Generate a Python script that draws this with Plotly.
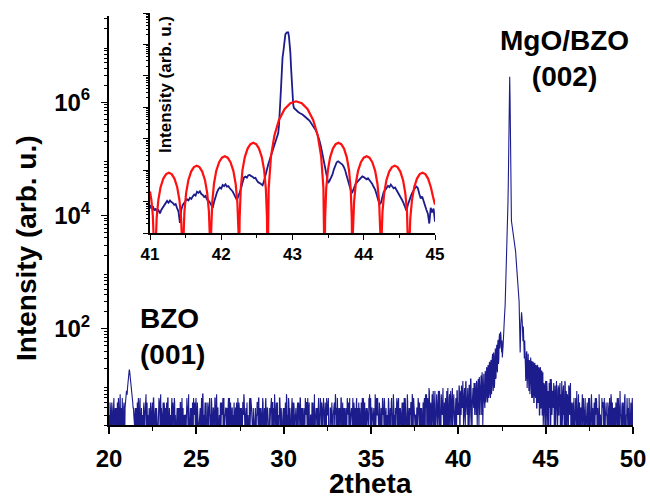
import numpy as np
import plotly.graph_objects as go

# ---------------------------------------------------------------------------
# Wide 2theta scan: detector counts.
# Each segment is (start angle, counts coded one base-36 character per step);
# the "_mid" strings hold the readings taken half a step later.
# ---------------------------------------------------------------------------
SCAN_STEP = 0.04
HALF_STEP = 0.02

counts_low_start = 20.00
counts_low = "3142513624" "1352417326" "142"
counts_low_mid = "2513416231" "4216352413" "251"

bzo_001_start = 20.92
bzo_001 = "4587bfjgc975423"
bzo_001_mid = "5679dhiea864324"

background_start = 21.52
background = (
    "2413625142" "3152473214" "1342516231" "4213527413" "2514326142"
    "3162415324" "1423516243" "2315427131" "4126352413" "3241537214"
    "2513426315" "1432617243" "3215462134" "2416325141" "3524136251"
    "4132573142" "2315264213" "1423536142" "3261425314" "2143625137"
    "4215326413" "1324517236" "2413652413" "3152426314" "1426353241"
    "2314527132" "4162351426" "3241536214" "2513427316" "1432615243"
    "3126452134" "2614325142" "3425136251" "4132672143" "2417263215"
    "1423546132" "3261425317" "2143625134" "4315226417" "1324517263"
    "2314652143" "31"
)
background_mid = (
    "3152416243" "1423615324" "2514263142" "3126452315" "1432516243"
    "2415362134" "3241526413" "1326451243" "2513426154" "1342617325"
    "3215243162" "2416325413" "1523416234" "3142653241" "2314526143"
    "1425362315" "3216452143" "2413526314" "1352416243" "3124625413"
    "2541326142" "1432516325" "3216245134" "2415362413" "1324526153"
    "3152416342" "2413625134" "1526341243" "3214526413" "2143625314"
    "1425316243" "3251426135" "2314625413" "1432526142" "3125436214"
    "2416325143" "1352416325" "3214526413" "2513624135" "1423516243"
    "3142625314" "25"
)

pre_rise_start = 38.00
pre_rise = "3527416293" "4163825147" "2538416392" "5147293618" "3627415283"
pre_rise_mid = "2614735281" "5372418264" "3815274931" "4628315724" "2947136285"

rise_1_start = 40.00
rise_1 = "4a2736b5392c4618a3d25947b"
rise_1_mid = "3928a4c273" "b5394a2d61" "85b39"

rise_2_start = 41.00
rise_2 = "5c2a7e3b8h2d6"
rise_2_mid = "3b6d2a9f3c5g4"

rise_3_start = 41.52
rise_3 = "4g6k5m7p6s9"
rise_3_mid = "i5l7n6q8r7u"

tail_1_start = 44.22
tail_1 = "r7o5p6m4n5k3l4i3"
tail_1_mid = "6q5o7n4m5l3j4i3h"

tail_2_start = 44.86
tail_2 = "2b4a1c3825" "d2947b1a6c" "2839b4172a" "5c2846193b" "2"
tail_2_mid = "3a2c5927b4" "1d3846a2b5" "1a3927c483" "2b5173a4925"

tail_3_start = 46.50
tail_3 = ("3416252813" "2514372416" "1352614273" "4251362417"
          "2316524135" "3142617253" "2415362418" "3251427136" "24615342")
tail_3_mid = ("2531462417" "3142516324" "2415263142" "1326452315"
              "3214526143" "2513426314" "1432516243" "2415362134" "31425162")

# MgO / BZO (002) reflection with its thickness fringes
peak_tth = [
    41.96, 41.98, 42.00, 42.02, 42.04, 42.06, 42.08, 42.10, 42.12, 42.14,
    42.16, 42.18, 42.20, 42.22, 42.24, 42.26, 42.28, 42.30, 42.32, 42.34,
    42.36, 42.38, 42.40, 42.42, 42.44, 42.46, 42.48, 42.50, 42.52, 42.54,
    42.56, 42.58, 42.60, 42.64, 42.68, 42.72, 42.76, 42.80, 42.84, 42.86,
    42.88, 42.90, 42.92, 42.94, 42.96, 42.98, 43.00, 43.02, 43.04, 43.08,
    43.12, 43.16, 43.20, 43.24, 43.28, 43.32, 43.36, 43.40, 43.44, 43.48,
    43.50, 43.52, 43.54, 43.56, 43.58, 43.60, 43.62, 43.64, 43.66, 43.68,
    43.70, 43.72, 43.74, 43.76, 43.78, 43.80, 43.82, 43.84, 43.86, 43.88,
    43.90, 43.92, 43.94, 43.96, 43.98, 44.00, 44.02, 44.04, 44.06, 44.08,
    44.10, 44.12, 44.14, 44.16, 44.18, 44.20,
]
peak_counts = [
    36, 12, 8, 38, 30, 9, 11, 34, 45, 13,
    14, 40, 52, 21, 17, 58, 64, 24, 30, 70,
    82, 45, 55, 88, 76, 50, 38, 62, 31, 40,
    48, 75, 105, 160, 260, 600, 1500, 4000, 16000, 35000,
    120000, 600000, 1900000, 2800000, 1300000, 150000, 60000, 16000, 8000, 6500,
    5300, 4400, 3800, 3200, 2300, 1500, 1000, 700, 480, 300,
    150, 60, 38, 70, 120, 160, 195, 165, 130, 90,
    60, 110, 85, 45, 30, 62, 48, 22, 12, 15,
    38, 40, 9, 13, 33, 36, 14, 8, 28, 26,
    7, 12, 31, 25, 10, 6,
]

# ---------------------------------------------------------------------------
# Inset: high-resolution scan around (002) and simulated Laue fringes
# ---------------------------------------------------------------------------
inset_tth = [
    41.00, 41.02, 41.04, 41.06, 41.08, 41.10, 41.12, 41.14, 41.16, 41.18,
    41.20, 41.22, 41.24, 41.26, 41.28, 41.30, 41.32, 41.34, 41.36, 41.38,
    41.40, 41.42, 41.44, 41.46, 41.48, 41.50, 41.52, 41.54, 41.56, 41.58,
    41.60, 41.62, 41.64, 41.66, 41.68, 41.70, 41.72, 41.74, 41.76, 41.78,
    41.80, 41.82, 41.84, 41.86, 41.88, 41.90, 41.92, 41.94, 41.96, 41.98,
    42.00, 42.02, 42.04, 42.06, 42.08, 42.10, 42.12, 42.14, 42.16, 42.18,
    42.20, 42.22, 42.24, 42.26, 42.28, 42.30, 42.32, 42.34, 42.36, 42.38,
    42.40, 42.42, 42.44, 42.46, 42.48, 42.50, 42.52, 42.54, 42.56, 42.58,
    42.60, 42.62, 42.64, 42.66, 42.68, 42.70, 42.72, 42.74, 42.76, 42.78,
    42.80, 42.81, 42.82, 42.83, 42.84, 42.85, 42.86, 42.87, 42.88, 42.89,
    42.90, 42.92, 42.94, 42.95, 42.96, 42.97, 42.98, 42.99, 43.00, 43.01,
    43.02, 43.04, 43.06, 43.08, 43.10, 43.12, 43.14, 43.16, 43.18, 43.20,
    43.22, 43.24, 43.26, 43.28, 43.30, 43.32, 43.34, 43.36, 43.38, 43.40,
    43.42, 43.44, 43.46, 43.48, 43.50, 43.52, 43.54, 43.56, 43.58, 43.60,
    43.62, 43.64, 43.66, 43.68, 43.70, 43.72, 43.74, 43.76, 43.78, 43.80,
    43.82, 43.84, 43.86, 43.88, 43.90, 43.92, 43.94, 43.96, 43.98, 44.00,
    44.02, 44.04, 44.06, 44.08, 44.10, 44.12, 44.14, 44.16, 44.18, 44.20,
    44.22, 44.24, 44.26, 44.28, 44.30, 44.32, 44.34, 44.36, 44.38, 44.40,
    44.42, 44.44, 44.46, 44.48, 44.50, 44.52, 44.54, 44.56, 44.58, 44.60,
    44.62, 44.64, 44.66, 44.68, 44.70, 44.72, 44.74, 44.76, 44.78, 44.80,
    44.82, 44.84, 44.86, 44.88, 44.90, 44.92, 44.94, 44.96, 44.98, 45.00,
]
inset_measured = [
    7.8, 5.9, 7.1, 5.2, 6.0, 4.6, 5.3, 4.2, 5.5, 6.4,
    7.6, 8.9, 10.5, 9.2, 10.8, 9.6, 9.0, 7.9, 8.3, 6.2,
    4.8, 2.1, 5.6, 7.8, 9.5, 10.6, 11.8, 10.9, 13.2, 12.1,
    14.6, 16.8, 15.5, 20.5, 18.9, 21.2, 17.4, 16.2, 14.0, 15.1,
    11.6, 10.8, 9.4, 7.9, 6.3, 9.8, 15.4, 19.6, 24.5, 28.1,
    26.0, 33.9, 31.0, 35.5, 29.8, 30.9, 26.4, 24.0, 20.9, 17.0,
    13.1, 11.2, 14.8, 19.5, 27.0, 41.5, 58.9, 62.0, 57.5, 69.2,
    70.8, 64.6, 61.7, 55.0, 57.0, 46.8, 40.7, 38.9, 35.5, 33.1,
    44.7, 70.8, 107, 155, 214, 295, 380, 525, 690, 1000,
    1510, 2600, 5250, 17000, 46800, 170000, 380000, 550000, 1000000, 1600000,
    2100000, 2400000, 2400000, 1800000, 1100000, 550000, 180000, 60000, 30000, 12300,
    9500, 8500, 7600, 7100, 6600, 6400, 5900, 5400, 5000, 4500,
    4100, 3700, 3200, 2800, 2300, 1950, 1600, 1200, 850, 560,
    330, 190, 110, 62, 39, 46, 58, 72, 104, 148,
    178, 191, 178, 165, 150, 126, 98, 66, 48, 31,
    22, 20, 28, 34, 40, 44, 52, 57, 63, 60,
    56, 51, 55, 48, 42, 36, 29, 24, 17, 11,
    8.2, 9.0, 14.2, 20.4, 23.0, 27.5, 31.8, 28.9, 34.7, 30.2,
    26.5, 28.0, 23.4, 20.0, 16.2, 12.9, 11.0, 8.7, 6.9, 5.1,
    8.0, 11.5, 14.6, 19.0, 23.5, 27.1, 30.2, 26.6, 17.4, 12.6,
    14.4, 9.8, 7.2, 5.4, 4.1, 2.0, 6.3, 4.5, 6.0, 2.3,
]

sim_tth = [
    41.000, 41.020, 41.040, 41.055, 41.065, 41.070,
    41.078, 41.093, 41.117, 41.148, 41.187, 41.226, 41.265, 41.304, 41.343,
    41.382, 41.413, 41.437, 41.452, 41.460,
    41.468, 41.483, 41.507, 41.538, 41.577, 41.616, 41.655, 41.694, 41.733,
    41.772, 41.803, 41.827, 41.842, 41.850,
    41.858, 41.874, 41.898, 41.930, 41.970, 42.010, 42.050, 42.090, 42.130,
    42.170, 42.202, 42.226, 42.242, 42.250,
    42.258, 42.274, 42.298, 42.330, 42.370, 42.410, 42.450, 42.490, 42.530,
    42.570, 42.602, 42.626, 42.642, 42.650,
    42.666, 42.698, 42.746, 42.810, 42.890, 42.970, 43.050, 43.130, 43.210,
    43.290, 43.354, 43.402, 43.434, 43.450,
    43.458, 43.473, 43.497, 43.528, 43.567, 43.606, 43.645, 43.684, 43.723,
    43.762, 43.793, 43.817, 43.832, 43.840,
    43.848, 43.864, 43.888, 43.920, 43.960, 44.000, 44.040, 44.080, 44.120,
    44.160, 44.192, 44.216, 44.232, 44.240,
    44.248, 44.263, 44.287, 44.318, 44.357, 44.396, 44.435, 44.474, 44.513,
    44.552, 44.583, 44.607, 44.622, 44.630,
    44.638, 44.653, 44.677, 44.708, 44.747, 44.786, 44.825, 44.864, 44.903,
    44.942, 44.973, 45.000,
]
sim_intensity = [
    21, 11, 3.5, 1.0, 0.3, 0.05,
    0.33, 2.9, 11.2, 28.6, 54, 75, 83, 75, 54,
    28.6, 11.2, 2.9, 0.33, 0.05,
    0.54, 4.8, 18.6, 47.6, 90, 125, 138, 125, 90,
    47.6, 18.6, 4.8, 0.54, 0.05,
    1.07, 9.6, 37, 95, 180, 249, 275, 249, 180,
    95, 37, 9.6, 1.07, 0.05,
    2.9, 26, 100, 256, 485, 671, 741, 671, 485,
    256, 100, 26, 2.9, 0.05,
    26.8, 274, 1276, 3946, 8882, 13578, 15500, 13578, 8882,
    3946, 1276, 274, 26.8, 0.05,
    2.9, 26, 100, 256, 485, 671, 741, 671, 485,
    256, 100, 26, 2.9, 0.05,
    1.07, 9.6, 37, 95, 180, 249, 275, 249, 180,
    95, 37, 9.6, 1.07, 0.05,
    0.54, 4.8, 18.6, 47.6, 90, 125, 138, 125, 90,
    47.6, 18.6, 4.8, 0.54, 0.05,
    0.33, 2.9, 11.2, 28.6, 54, 75, 83, 75, 54,
    28.6, 14, 8,
]

main_x_ticks = [20, 25, 30, 35, 40, 45, 50]
main_y_label_ticks = [1e2, 1e4, 1e6]
main_y_labels = ["10<sup>2</sup>", "10<sup>4</sup>", "10<sup>6</sup>"]
main_y_odd_decades = [1e1, 1e3, 1e5, 1e7]
inset_x_ticks = [41, 42, 43, 44, 45]

# ---------------------------------------------------------------------------
NAVY = "#1c1c8c"
RED = "#ff1010"
FONT = "Liberation Sans, Arial, sans-serif"

W, H = 650, 497
ML, MR, MT, MB = 109, 17, 13, 72
PW, PH = W - ML - MR, H - MT - MB
Y_LOG_RANGE = [0.301, 7.52]
MAIN_Y_DOMAIN = [0, (H - MB - 16) / PH]


def px_x(p):
    return (p - ML) / PW


def px_y(p):
    return (H - MB - p) / PH


def decode(start, code):
    n = len(code)
    x = np.round(start + SCAN_STEP * np.arange(n), 3)
    y = np.array([int(c, 36) for c in code], dtype=float)
    return x, y


coded_segments = [
    (counts_low_start, counts_low, counts_low_mid),
    (bzo_001_start, bzo_001, bzo_001_mid),
    (background_start, background, background_mid),
    (pre_rise_start, pre_rise, pre_rise_mid),
    (rise_1_start, rise_1, rise_1_mid),
    (rise_2_start, rise_2, rise_2_mid),
    (rise_3_start, rise_3, rise_3_mid),
    (tail_1_start, tail_1, tail_1_mid),
    (tail_2_start, tail_2, tail_2_mid),
    (tail_3_start, tail_3, tail_3_mid),
]
parts = [(np.array(peak_tth), np.array(peak_counts, dtype=float))]
for start, code, code_mid in coded_segments:
    parts.append(decode(start, code))
    parts.append(decode(start + HALF_STEP, code_mid))

scan_x = np.concatenate([p[0] for p in parts])
scan_y = np.concatenate([p[1] for p in parts])
order = np.argsort(scan_x, kind="stable")
scan_x, scan_y = scan_x[order], scan_y[order]


def minor_log(lo_dec, hi_dec, hi_val):
    vals = []
    for d in range(lo_dec, hi_dec + 1):
        for m in range(2, 10):
            v = m * 10 ** d
            if v <= hi_val:
                vals.append(v)
    return vals


fig = go.Figure()

fig.add_trace(go.Scatter(
    x=scan_x, y=scan_y, mode="lines",
    line=dict(color=NAVY, width=1.1), xaxis="x", yaxis="y",
    hoverinfo="skip",
))
fig.add_trace(go.Scatter(
    x=inset_tth, y=inset_measured, mode="lines",
    line=dict(color=NAVY, width=1.8), xaxis="x2", yaxis="y2",
    hoverinfo="skip",
))
fig.add_trace(go.Scatter(
    x=sim_tth, y=sim_intensity, mode="lines",
    line=dict(color=RED, width=2.2), xaxis="x2", yaxis="y2",
    hoverinfo="skip",
))

axis_font = dict(family=FONT, size=24, color="black", weight="bold")
inset_font = dict(family=FONT, size=17, color="black", weight="bold")

fig.update_layout(
    width=W, height=H,
    margin=dict(l=ML, r=MR, t=MT, b=MB, pad=0, autoexpand=False),
    paper_bgcolor="white", plot_bgcolor="rgba(0,0,0,0)",
    showlegend=False,
    xaxis=dict(
        domain=[0, 1], range=[20, 50], anchor="y", automargin=False,
        tickmode="array", tickvals=main_x_ticks,
        ticks="outside", ticklen=7, tickwidth=1.6, tickcolor="black",
        showline=True, linecolor="black", linewidth=2,
        showgrid=False, zeroline=False, tickfont=axis_font,
        ticklabelstandoff=4,
        minor=dict(tickmode="array", tickvals=[22.5, 27.5, 32.5, 37.5, 42.5, 47.5],
                   ticks="outside", ticklen=4, tickwidth=1.4, tickcolor="black",
                   showgrid=False),
    ),
    yaxis=dict(
        domain=MAIN_Y_DOMAIN, type="log", range=Y_LOG_RANGE,
        anchor="x", automargin=False,
        tickmode="array", tickvals=main_y_label_ticks, ticktext=main_y_labels,
        ticks="outside", ticklen=6, tickwidth=1.4, tickcolor="black",
        showline=True, linecolor="black", linewidth=2,
        showgrid=False, zeroline=False, tickfont=axis_font,
        ticklabelstandoff=6,
        minor=dict(tickmode="array", tickvals=minor_log(0, 7, 3.3e7),
                   ticks="outside", ticklen=3, tickwidth=1, tickcolor="black",
                   showgrid=False),
    ),
    # unlabelled ticks at the odd decades of the main intensity axis
    yaxis3=dict(
        domain=MAIN_Y_DOMAIN, type="log", range=Y_LOG_RANGE,
        overlaying="y", anchor="x", side="left", automargin=False,
        tickmode="array", tickvals=main_y_odd_decades,
        showticklabels=False,
        ticks="outside", ticklen=6, tickwidth=1.4, tickcolor="black",
        showline=False, showgrid=False, zeroline=False,
    ),
    xaxis2=dict(
        domain=[px_x(150), px_x(435)], range=[41, 45], anchor="y2",
        automargin=False,
        tickmode="array", tickvals=inset_x_ticks,
        ticks="outside", ticklen=5, tickwidth=1.2, tickcolor="black",
        showline=True, linecolor="black", linewidth=1.5,
        showgrid=False, zeroline=False, tickfont=inset_font,
        ticklabelstandoff=0,
        minor=dict(tickmode="array", tickvals=[41.5, 42.5, 43.5, 44.5],
                   ticks="outside", ticklen=3, tickwidth=1, tickcolor="black",
                   showgrid=False),
    ),
    yaxis2=dict(
        domain=[px_y(233), 1], type="log", range=[0, 7], anchor="x2",
        automargin=False,
        tickmode="array", tickvals=[1e0, 1e1, 1e2, 1e3, 1e4, 1e5, 1e6, 1e7],
        showticklabels=False,
        ticks="outside", ticklen=5, tickwidth=1.2, tickcolor="black",
        showline=True, linecolor="black", linewidth=1.5,
        showgrid=False, zeroline=False,
        minor=dict(tickmode="array", tickvals=minor_log(0, 6, 1e7),
                   ticks="outside", ticklen=2.5, tickwidth=0.8, tickcolor="black",
                   showgrid=False),
    ),
)

bold28 = dict(family=FONT, size=28, color="black", weight="bold")

fig.add_annotation(
    text="Intensity (arb. u.)", textangle=-90, font=bold28,
    xref="paper", yref="paper", x=px_x(26), y=px_y(248),
    xanchor="center", yanchor="middle", showarrow=False,
)
fig.add_annotation(
    text="2theta", font=bold28,
    xref="paper", yref="paper", x=px_x(370), y=px_y(483),
    xanchor="center", yanchor="middle", showarrow=False,
)
fig.add_annotation(
    text="MgO/BZO<br>(002)", font=bold28, align="center",
    xref="paper", yref="paper", x=px_x(564.5), y=px_y(58.5),
    xanchor="center", yanchor="middle", showarrow=False,
)
fig.add_annotation(
    text="BZO<br>(001)", font=bold28, align="left",
    xref="paper", yref="paper", x=px_x(138), y=px_y(336.5),
    xanchor="left", yanchor="middle", showarrow=False,
)
fig.add_annotation(
    text="Intensity (arb. u.)", textangle=-90,
    font=dict(family=FONT, size=17, color="black", weight="bold"),
    xref="paper", yref="paper", x=px_x(165), y=px_y(85),
    xanchor="center", yanchor="middle", showarrow=False,
)

fig.write_html("out.html")
